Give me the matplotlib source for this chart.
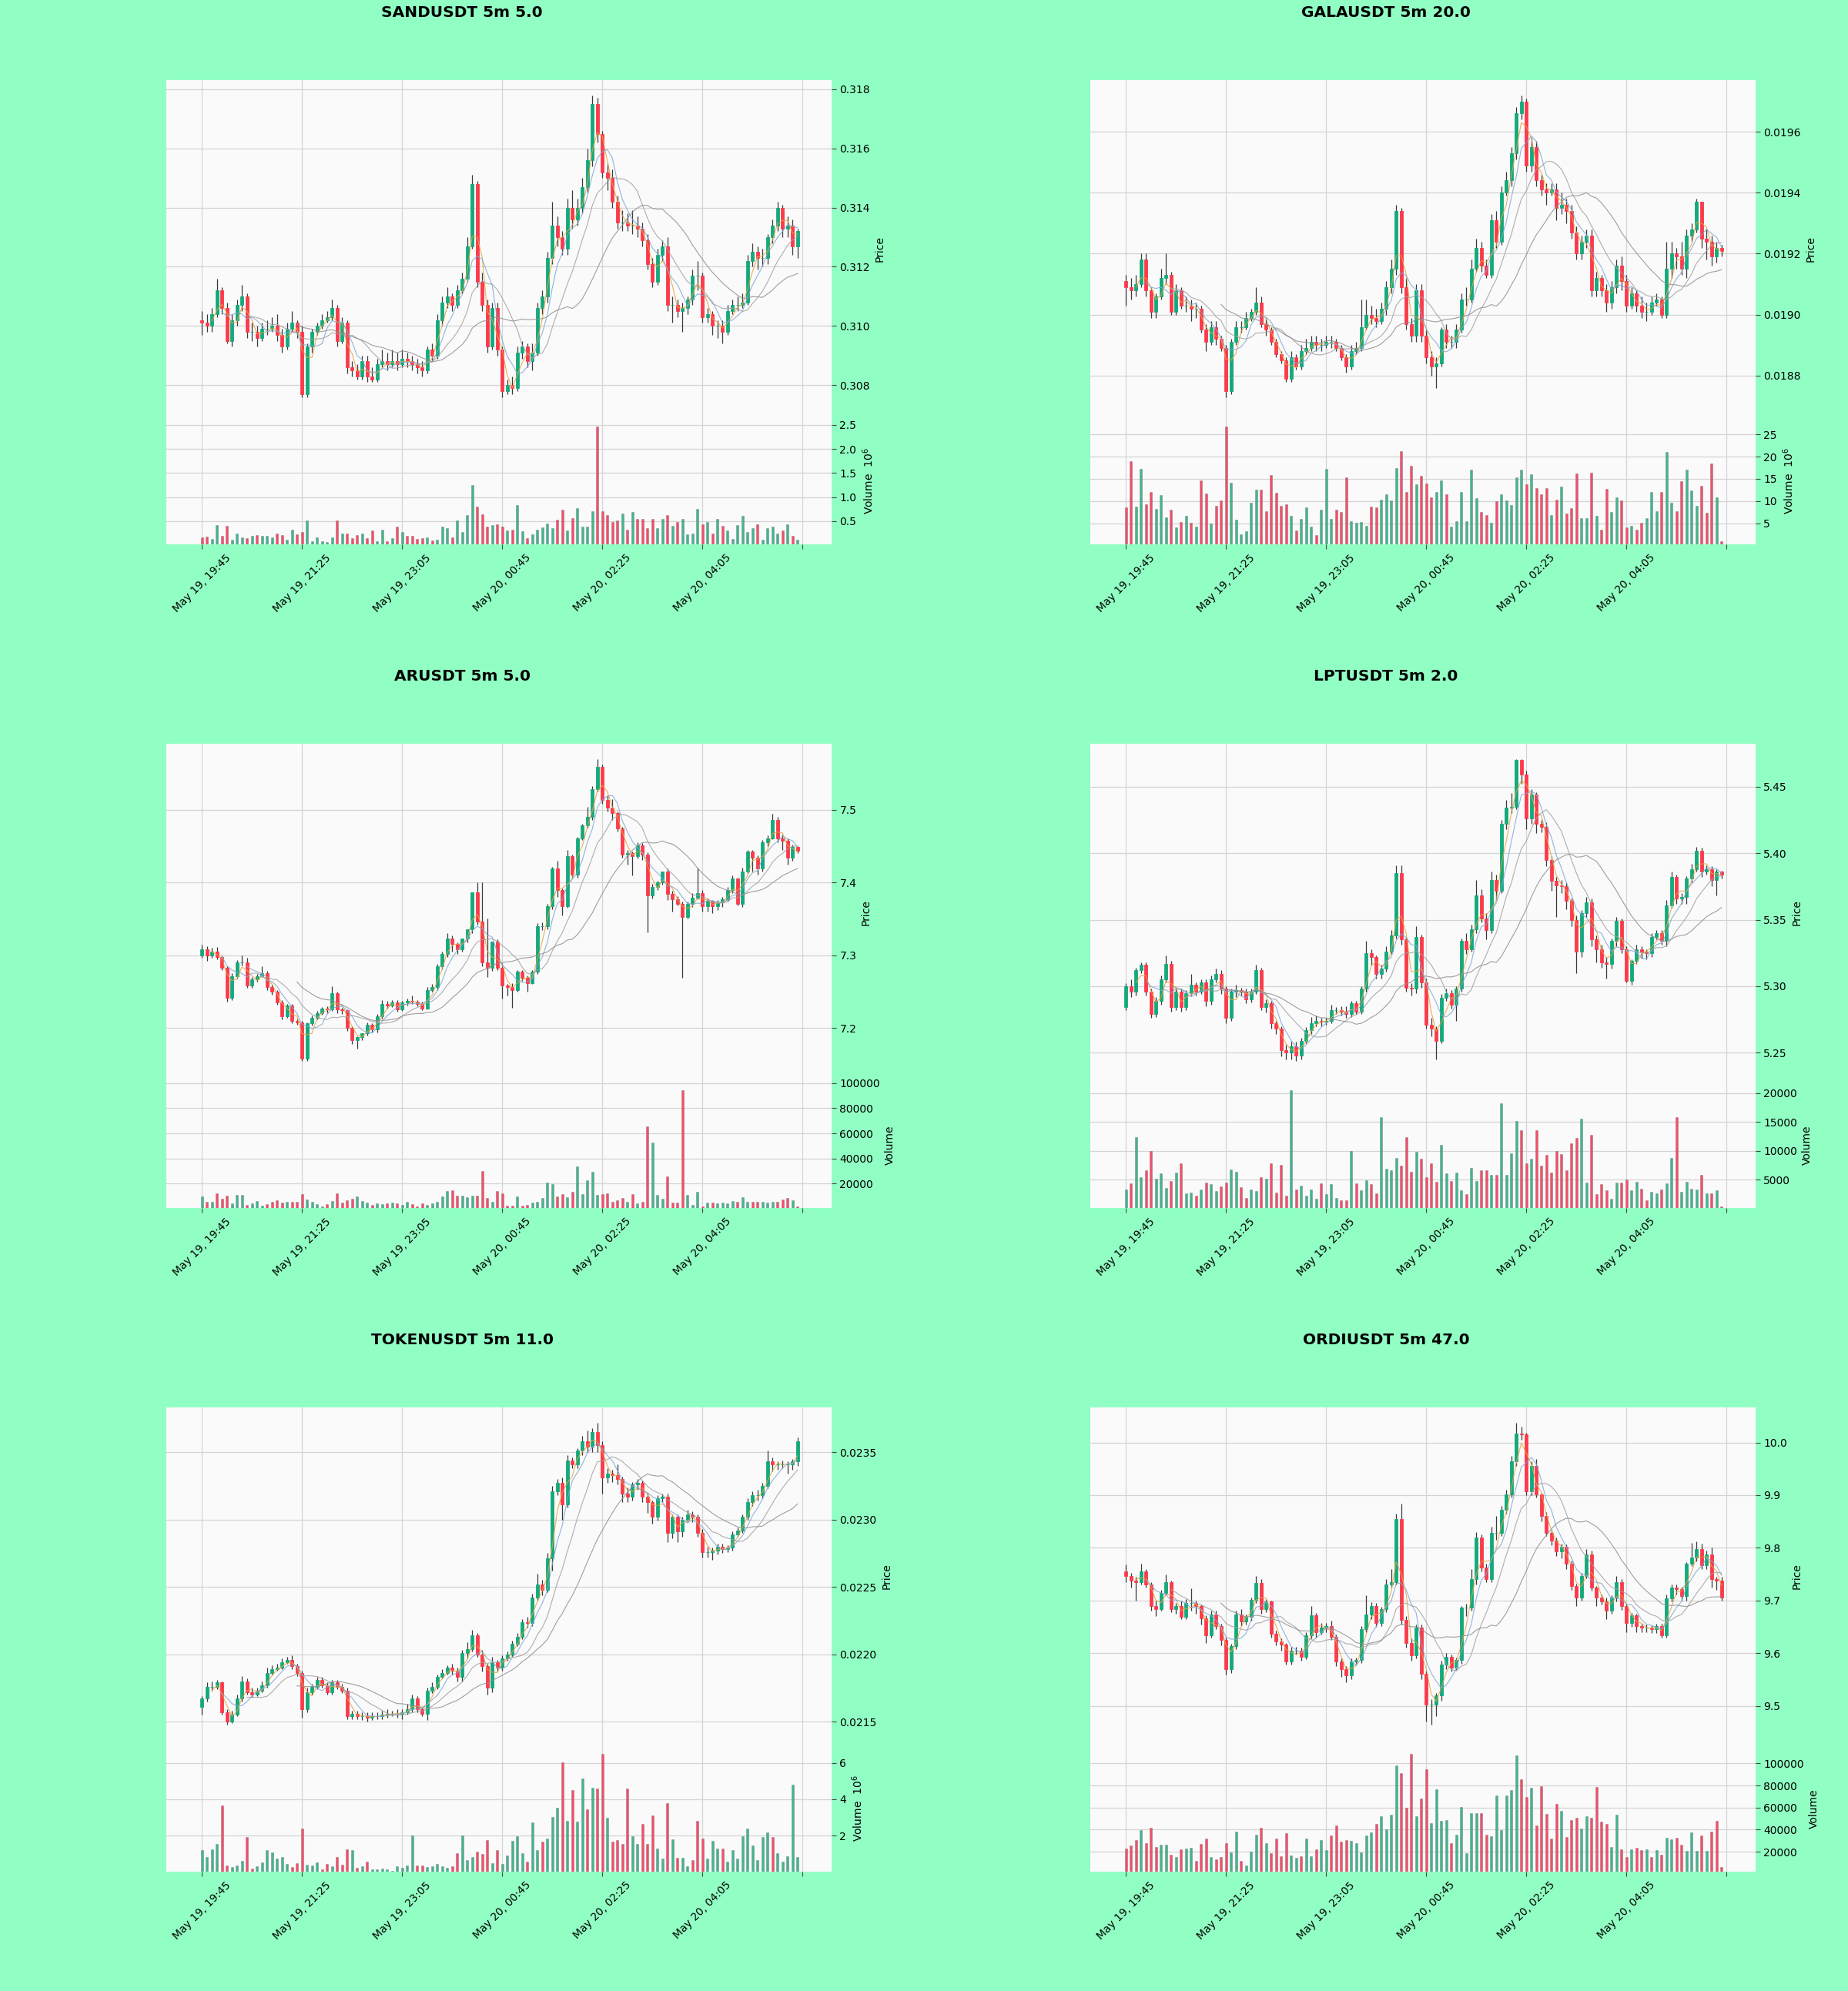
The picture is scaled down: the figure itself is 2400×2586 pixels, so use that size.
import matplotlib
matplotlib.use('Agg')
import matplotlib.pyplot as plt
from matplotlib.ticker import FuncFormatter, MaxNLocator
import numpy as np
import pandas as pd

# ---- data: closes, highs, lows, volumes (volumes in thousands) ----
sand_open0 = 0.3102
sand_close = [0.3101,0.3100,0.3104,0.3112,0.3106,0.3095,0.3102,0.3107,0.3110,0.3098,
              0.3098,0.3096,0.3099,0.3099,0.3100,0.3097,0.3093,0.3099,0.3101,0.3098,
              0.3077,0.3093,0.3098,0.3100,0.3102,0.3103,0.3106,0.3095,0.3101,0.3086,
              0.3085,0.3083,0.3088,0.3083,0.3082,0.3087,0.3088,0.3087,0.3088,0.3087,
              0.3089,0.3088,0.3087,0.3086,0.3085,0.3092,0.3090,0.3102,0.3108,0.3110,
              0.3107,0.3112,0.3116,0.3127,0.3148,0.3115,0.3107,0.3093,0.3106,0.3092,
              0.3078,0.3080,0.3079,0.3091,0.3093,0.3088,0.3091,0.3106,0.3110,0.3123,
              0.3134,0.3130,0.3126,0.3140,0.3136,0.3140,0.3147,0.3156,0.3175,0.3165,
              0.3152,0.3150,0.3142,0.3135,0.3135,0.3134,0.3134,0.3133,0.3129,0.3121,
              0.3115,0.3124,0.3127,0.3107,0.3107,0.3105,0.3106,0.3109,0.3117,0.3117,
              0.3103,0.3104,0.3100,0.3100,0.3098,0.3105,0.3107,0.3107,0.3108,0.3122,
              0.3125,0.3123,0.3123,0.3130,0.3134,0.3140,0.3133,0.3134,0.3127,0.3132]
sand_high = [0.3105,0.3104,0.3106,0.3116,0.3113,0.3108,0.3104,0.3109,0.3114,0.3111,
             0.3101,0.3100,0.3101,0.3102,0.3103,0.3104,0.3099,0.3101,0.3105,0.3102,
             0.3100,0.3094,0.3099,0.3101,0.3104,0.3105,0.3109,0.3107,0.3103,0.3102,
             0.3088,0.3087,0.3090,0.3090,0.3086,0.3089,0.3092,0.3091,0.3092,0.3091,
             0.3092,0.3091,0.3090,0.3089,0.3088,0.3093,0.3094,0.3104,0.3110,0.3113,
             0.3111,0.3114,0.3118,0.3130,0.3151,0.3149,0.3118,0.3109,0.3108,0.3108,
             0.3093,0.3082,0.3083,0.3093,0.3095,0.3094,0.3094,0.3108,0.3112,0.3125,
             0.3142,0.3137,0.3132,0.3143,0.3146,0.3143,0.3150,0.3160,0.3178,0.3177,
             0.3166,0.3155,0.3153,0.3144,0.3139,0.3138,0.3139,0.3137,0.3135,0.3131,
             0.3123,0.3126,0.3129,0.3130,0.3110,0.3109,0.3108,0.3110,0.3119,0.3122,
             0.3118,0.3106,0.3105,0.3102,0.3102,0.3107,0.3109,0.3110,0.3111,0.3124,
             0.3128,0.3127,0.3126,0.3131,0.3136,0.3142,0.3141,0.3137,0.3136,0.3133]
sand_low = [0.3097,0.3098,0.3098,0.3103,0.3104,0.3094,0.3093,0.3100,0.3105,0.3096,
            0.3095,0.3093,0.3095,0.3097,0.3098,0.3095,0.3091,0.3092,0.3098,0.3096,
            0.3076,0.3076,0.3091,0.3097,0.3099,0.3101,0.3102,0.3093,0.3094,0.3084,
            0.3083,0.3082,0.3082,0.3081,0.3081,0.3081,0.3086,0.3085,0.3086,0.3085,
            0.3086,0.3086,0.3085,0.3084,0.3083,0.3084,0.3088,0.3089,0.3100,0.3106,
            0.3105,0.3106,0.3111,0.3115,0.3126,0.3113,0.3105,0.3091,0.3092,0.3090,
            0.3076,0.3077,0.3077,0.3078,0.3089,0.3086,0.3085,0.3090,0.3104,0.3108,
            0.3121,0.3127,0.3124,0.3124,0.3133,0.3134,0.3138,0.3145,0.3154,0.3162,
            0.3150,0.3146,0.3140,0.3133,0.3132,0.3132,0.3131,0.3130,0.3127,0.3119,
            0.3113,0.3114,0.3122,0.3105,0.3101,0.3103,0.3098,0.3104,0.3107,0.3112,
            0.3101,0.3101,0.3097,0.3096,0.3094,0.3097,0.3104,0.3105,0.3106,0.3107,
            0.3120,0.3119,0.3120,0.3121,0.3128,0.3132,0.3130,0.3130,0.3124,0.3123]
sand_vol = [160,180,130,420,200,410,120,250,160,150,
            200,210,200,190,160,250,210,110,330,220,
            280,510,90,160,90,60,160,520,250,250,
            150,210,250,150,310,90,330,80,150,390,
            280,200,200,130,150,170,100,120,390,350,
            170,510,270,620,1250,810,640,390,420,440,
            380,310,320,840,290,150,220,320,370,450,
            360,530,740,310,560,770,380,380,710,2470,
            700,630,480,510,660,330,690,550,550,360,
            550,360,550,630,400,490,550,230,250,750,
            440,480,250,550,410,310,130,420,610,270,
            350,440,120,360,380,250,310,440,190,120]

gala_open0 = 0.01911
gala_close = [0.01909,0.01908,0.01910,0.01918,0.01908,0.01901,0.01906,0.01912,0.01913,0.01901,
              0.01908,0.01903,0.01903,0.01902,0.01902,0.01895,0.01891,0.01896,0.01892,0.01889,
              0.01875,0.01891,0.01896,0.01896,0.01899,0.01901,0.01904,0.01897,0.01895,0.01891,
              0.01887,0.01885,0.01879,0.01886,0.01883,0.01888,0.01889,0.01891,0.01890,0.01890,
              0.01891,0.01891,0.01889,0.01886,0.01883,0.01888,0.01889,0.01896,0.01900,0.01899,
              0.01898,0.01902,0.01909,0.01915,0.01934,0.01909,0.01897,0.01893,0.01908,0.01893,
              0.01886,0.01883,0.01884,0.01895,0.01891,0.01891,0.01895,0.01905,0.01905,0.01915,
              0.01922,0.01916,0.01913,0.01931,0.01924,0.01940,0.01944,0.01953,0.01966,0.01970,
              0.01949,0.01955,0.01944,0.01941,0.01940,0.01941,0.01935,0.01936,0.01934,0.01927,
              0.01920,0.01924,0.01926,0.01908,0.01912,0.01908,0.01904,0.01909,0.01916,0.01911,
              0.01903,0.01907,0.01903,0.01901,0.01901,0.01904,0.01905,0.01900,0.01915,0.01920,
              0.01919,0.01915,0.01926,0.01928,0.01937,0.01925,0.01924,0.01919,0.01922,0.01921]
gala_high = [0.01913,0.01912,0.01913,0.01920,0.01920,0.01909,0.01907,0.01915,0.01920,0.01914,
             0.01910,0.01909,0.01906,0.01905,0.01904,0.01903,0.01897,0.01898,0.01898,0.01893,
             0.01890,0.01892,0.01898,0.01898,0.01901,0.01902,0.01909,0.01906,0.01899,0.01896,
             0.01892,0.01888,0.01886,0.01888,0.01887,0.01890,0.01892,0.01893,0.01893,0.01892,
             0.01893,0.01893,0.01892,0.01890,0.01887,0.01890,0.01891,0.01905,0.01905,0.01903,
             0.01902,0.01904,0.01911,0.01918,0.01936,0.01935,0.01912,0.01899,0.01910,0.01910,
             0.01895,0.01888,0.01886,0.01896,0.01897,0.01893,0.01897,0.01907,0.01909,0.01918,
             0.01925,0.01924,0.01918,0.01933,0.01934,0.01942,0.01947,0.01955,0.01968,0.01972,
             0.01971,0.01958,0.01957,0.01946,0.01943,0.01943,0.01943,0.01940,0.01938,0.01936,
             0.01929,0.01926,0.01928,0.01928,0.01914,0.01913,0.01910,0.01911,0.01918,0.01919,
             0.01913,0.01909,0.01908,0.01906,0.01904,0.01906,0.01907,0.01906,0.01924,0.01924,
             0.01922,0.01924,0.01928,0.01930,0.01938,0.01937,0.01928,0.01926,0.01924,0.01923]
gala_low = [0.01903,0.01905,0.01906,0.01909,0.01906,0.01899,0.01899,0.01905,0.01910,0.01900,
            0.01900,0.01902,0.01901,0.01898,0.01899,0.01894,0.01888,0.01890,0.01890,0.01888,
            0.01873,0.01874,0.01890,0.01894,0.01895,0.01898,0.01900,0.01896,0.01893,0.01890,
            0.01886,0.01884,0.01878,0.01878,0.01882,0.01882,0.01887,0.01888,0.01888,0.01888,
            0.01889,0.01889,0.01888,0.01885,0.01881,0.01882,0.01887,0.01888,0.01895,0.01897,
            0.01896,0.01897,0.01900,0.01907,0.01913,0.01907,0.01895,0.01891,0.01891,0.01891,
            0.01884,0.01880,0.01876,0.01883,0.01889,0.01889,0.01889,0.01894,0.01903,0.01904,
            0.01914,0.01914,0.01912,0.01912,0.01922,0.01923,0.01939,0.01942,0.01951,0.01964,
            0.01947,0.01947,0.01942,0.01939,0.01936,0.01939,0.01931,0.01933,0.01930,0.01925,
            0.01918,0.01918,0.01922,0.01906,0.01906,0.01906,0.01901,0.01902,0.01907,0.01908,
            0.01901,0.01902,0.01901,0.01899,0.01898,0.01900,0.01903,0.01899,0.01899,0.01912,
            0.01915,0.01913,0.01912,0.01924,0.01927,0.01922,0.01918,0.01916,0.01917,0.01919]
gala_vol = [8600,19000,8700,17300,9200,12000,8200,11400,6300,8100,
            4100,5300,6700,5200,4200,14700,11700,5000,8900,10100,
            26800,14200,5800,2500,3200,9600,12500,12500,7700,15900,
            11900,8900,9200,6600,3400,6000,8600,4200,2400,8000,
            17300,5900,8000,7500,15400,5400,5200,5300,4500,8700,
            8600,10300,11500,10100,17400,21300,12100,17900,13700,15700,
            13900,10900,12100,14700,11600,4200,5400,12100,5400,17100,
            10700,7600,6800,5200,10000,11600,10200,9100,15400,17100,
            13700,16000,13000,11600,13000,6800,10400,13300,7200,8400,
            16200,6100,6100,16400,6600,3500,12800,7600,10900,10100,
            4000,4400,3500,5200,6200,12100,7800,12100,21000,9600,
            7800,14400,17100,12400,8900,13400,7400,18400,10900,900]

ar_open0 = 7.300
ar_close = [7.308,7.300,7.305,7.298,7.283,7.241,7.271,7.290,7.290,7.258,
            7.267,7.271,7.275,7.256,7.250,7.235,7.216,7.231,7.210,7.208,
            7.158,7.206,7.214,7.220,7.227,7.225,7.248,7.225,7.224,7.200,
            7.183,7.187,7.193,7.204,7.198,7.216,7.233,7.231,7.235,7.225,
            7.235,7.237,7.236,7.233,7.227,7.252,7.256,7.285,7.302,7.323,
            7.315,7.308,7.323,7.336,7.386,7.346,7.290,7.283,7.319,7.283,
            7.258,7.256,7.252,7.277,7.269,7.262,7.277,7.340,7.340,7.367,
            7.419,7.390,7.367,7.436,7.411,7.461,7.478,7.490,7.528,7.559,
            7.513,7.503,7.495,7.474,7.438,7.440,7.436,7.451,7.438,7.382,
            7.394,7.400,7.415,7.384,7.377,7.371,7.352,7.371,7.379,7.385,
            7.367,7.375,7.367,7.373,7.377,7.390,7.405,7.371,7.415,7.442,
            7.434,7.419,7.455,7.461,7.486,7.461,7.457,7.434,7.449,7.444]
ar_high = [7.314,7.312,7.310,7.311,7.300,7.285,7.275,7.293,7.300,7.296,
           7.270,7.274,7.285,7.278,7.259,7.252,7.238,7.233,7.233,7.213,
           7.210,7.208,7.217,7.223,7.229,7.230,7.257,7.250,7.228,7.226,
           7.202,7.188,7.190,7.207,7.206,7.219,7.238,7.237,7.238,7.238,
           7.237,7.240,7.245,7.238,7.236,7.256,7.260,7.288,7.305,7.330,
           7.327,7.318,7.313,7.328,7.340,7.400,7.400,7.350,7.299,7.322,
           7.289,7.260,7.262,7.280,7.280,7.272,7.280,7.344,7.345,7.370,
           7.421,7.430,7.392,7.445,7.438,7.463,7.481,7.504,7.532,7.570,
           7.562,7.520,7.514,7.498,7.476,7.445,7.443,7.455,7.454,7.441,
           7.398,7.402,7.405,7.419,7.389,7.381,7.374,7.374,7.385,7.420,
           7.390,7.378,7.376,7.376,7.380,7.394,7.410,7.407,7.420,7.445,
           7.445,7.437,7.458,7.465,7.494,7.490,7.466,7.460,7.452,7.450]
ar_low = [7.296,7.292,7.296,7.294,7.279,7.236,7.238,7.268,7.286,7.255,
          7.255,7.264,7.270,7.252,7.246,7.232,7.212,7.214,7.206,7.204,
          7.155,7.155,7.203,7.212,7.218,7.220,7.223,7.220,7.219,7.196,
          7.178,7.172,7.183,7.190,7.194,7.194,7.213,7.227,7.229,7.222,
          7.223,7.231,7.233,7.230,7.224,7.225,7.250,7.252,7.281,7.298,
          7.305,7.302,7.305,7.318,7.330,7.342,7.285,7.270,7.278,7.280,
          7.240,7.245,7.228,7.250,7.265,7.250,7.260,7.274,7.334,7.336,
          7.363,7.380,7.355,7.365,7.405,7.406,7.458,7.475,7.486,7.525,
          7.508,7.498,7.486,7.470,7.434,7.425,7.410,7.433,7.431,7.331,
          7.378,7.390,7.397,7.376,7.360,7.368,7.269,7.350,7.366,7.377,
          7.360,7.360,7.358,7.362,7.366,7.374,7.385,7.368,7.366,7.412,
          7.415,7.411,7.415,7.450,7.459,7.455,7.445,7.425,7.430,7.440]
ar_vol = [9.5,5.4,5.7,12.0,7.8,10.2,4.3,10.9,10.9,2.8,
          4.3,6.2,2.6,3.8,5.4,6.6,5.0,5.2,5.2,5.4,
          11.4,7.1,5.2,3.8,1.9,3.8,6.2,12.5,4.7,6.6,
          7.8,9.5,6.2,4.7,3.3,4.3,3.8,4.3,4.7,4.3,
          3.3,5.2,3.8,1.9,4.3,2.8,4.3,5.7,9.9,14.2,
          14.7,10.2,10.2,9.0,10.6,10.2,30.3,8.5,5.4,14.2,
          12.3,2.4,2.4,9.5,2.4,2.8,4.7,5.7,8.3,20.8,
          19.4,9.9,11.4,9.0,13.7,33.6,11.4,22.7,29.1,10.9,
          11.4,12.5,5.4,6.6,8.5,5.4,11.4,4.3,5.2,65.8,
          52.5,10.9,7.8,25.6,4.7,4.7,94.5,10.9,3.1,13.3,
          1.9,4.7,4.7,4.3,4.7,4.3,6.2,5.7,9.0,5.2,
          5.2,5.2,5.7,4.7,5.7,5.4,7.1,8.5,6.6,1.9]

lpt_open0 = 5.284
lpt_close = [5.300,5.296,5.312,5.316,5.296,5.279,5.289,5.305,5.317,5.284,
             5.296,5.284,5.295,5.301,5.296,5.303,5.289,5.305,5.309,5.298,
             5.276,5.296,5.297,5.296,5.290,5.296,5.312,5.284,5.287,5.272,
             5.268,5.252,5.250,5.255,5.248,5.259,5.267,5.272,5.274,5.273,
             5.274,5.282,5.282,5.281,5.279,5.287,5.281,5.298,5.325,5.322,
             5.309,5.313,5.326,5.338,5.385,5.335,5.299,5.298,5.337,5.303,
             5.271,5.268,5.259,5.291,5.295,5.286,5.298,5.334,5.328,5.343,
             5.368,5.351,5.342,5.380,5.372,5.422,5.434,5.435,5.470,5.459,
             5.426,5.444,5.422,5.420,5.395,5.379,5.376,5.375,5.364,5.350,
             5.326,5.355,5.363,5.335,5.328,5.318,5.317,5.334,5.349,5.328,
             5.304,5.319,5.328,5.326,5.325,5.337,5.340,5.334,5.361,5.382,
             5.366,5.367,5.381,5.388,5.402,5.386,5.388,5.380,5.386,5.384]
lpt_high = [5.302,5.305,5.314,5.318,5.318,5.298,5.292,5.308,5.323,5.319,
            5.299,5.298,5.297,5.309,5.303,5.305,5.305,5.308,5.313,5.312,
            5.300,5.298,5.301,5.299,5.298,5.298,5.316,5.314,5.290,5.289,
            5.274,5.270,5.256,5.258,5.258,5.261,5.269,5.277,5.278,5.276,
            5.276,5.286,5.284,5.285,5.285,5.289,5.289,5.300,5.334,5.328,
            5.323,5.316,5.330,5.342,5.391,5.391,5.337,5.302,5.345,5.339,
            5.306,5.276,5.270,5.294,5.298,5.297,5.300,5.336,5.340,5.346,
            5.380,5.373,5.355,5.386,5.384,5.425,5.440,5.445,5.471,5.471,
            5.462,5.448,5.446,5.425,5.423,5.398,5.382,5.380,5.378,5.366,
            5.353,5.357,5.367,5.366,5.338,5.331,5.322,5.336,5.352,5.351,
            5.330,5.320,5.331,5.330,5.328,5.340,5.342,5.342,5.365,5.386,
            5.384,5.370,5.383,5.392,5.405,5.404,5.391,5.390,5.388,5.387]
lpt_low = [5.282,5.292,5.293,5.310,5.293,5.276,5.277,5.286,5.303,5.281,
           5.282,5.281,5.282,5.293,5.293,5.294,5.285,5.286,5.303,5.294,
           5.272,5.274,5.292,5.293,5.287,5.288,5.294,5.282,5.280,5.268,
           5.264,5.247,5.245,5.245,5.244,5.245,5.257,5.264,5.270,5.270,
           5.271,5.272,5.279,5.278,5.276,5.277,5.279,5.279,5.296,5.316,
           5.306,5.306,5.311,5.324,5.336,5.331,5.296,5.293,5.295,5.299,
           5.268,5.262,5.245,5.257,5.289,5.283,5.274,5.296,5.324,5.326,
           5.340,5.348,5.335,5.340,5.365,5.370,5.418,5.430,5.433,5.452,
           5.418,5.422,5.415,5.416,5.390,5.372,5.352,5.370,5.358,5.345,
           5.310,5.322,5.352,5.330,5.318,5.314,5.306,5.313,5.330,5.325,
           5.303,5.301,5.317,5.321,5.320,5.322,5.335,5.331,5.330,5.359,
           5.362,5.362,5.362,5.378,5.386,5.382,5.384,5.375,5.368,5.381]
lpt_vol = [3.3,4.4,12.3,5.4,6.6,10.0,5.2,6.1,3.6,4.8,
           6.2,7.8,2.7,2.8,2.3,3.3,4.5,4.2,3.0,3.8,
           4.5,6.8,6.4,3.7,1.9,3.3,3.1,5.5,5.2,7.8,
           2.8,7.6,2.3,20.5,3.3,4.0,2.2,3.3,1.7,4.4,
           2.5,4.3,1.8,1.4,1.4,10.0,4.4,3.2,4.9,4.2,
           2.7,15.8,6.9,6.6,8.8,7.4,12.4,6.4,9.8,8.6,
           5.4,7.8,4.6,11.0,6.1,4.8,6.2,3.2,2.5,7.1,
           4.8,6.6,6.6,5.8,5.8,18.2,5.8,9.6,15.1,13.6,
           7.9,8.6,13.6,7.4,9.3,6.2,10.0,9.4,6.6,11.3,
           12.2,15.5,4.5,12.7,2.5,4.2,3.2,1.7,4.5,4.5,
           5.0,3.2,4.7,3.5,1.4,2.9,2.7,3.3,4.4,8.7,
           15.8,2.9,4.7,3.5,3.3,5.9,2.7,2.7,3.2,0.4]

token_open0 = 0.02161
token_close = [0.02167,0.02176,0.02176,0.02179,0.02157,0.02150,0.02155,0.02167,0.02180,0.02172,
               0.02170,0.02173,0.02177,0.02186,0.02189,0.02190,0.02194,0.02196,0.02191,0.02186,
               0.02159,0.02172,0.02176,0.02181,0.02177,0.02172,0.02179,0.02176,0.02173,0.02154,
               0.02156,0.02154,0.02154,0.02153,0.02154,0.02154,0.02155,0.02156,0.02156,0.02156,
               0.02157,0.02159,0.02167,0.02159,0.02156,0.02173,0.02176,0.02183,0.02186,0.02190,
               0.02188,0.02183,0.02201,0.02204,0.02214,0.02200,0.02191,0.02175,0.02194,0.02190,
               0.02197,0.02200,0.02208,0.02213,0.02224,0.02223,0.02242,0.02252,0.02248,0.02271,
               0.02321,0.02327,0.02311,0.02344,0.02341,0.02351,0.02358,0.02354,0.02365,0.02355,
               0.02331,0.02334,0.02333,0.02330,0.02319,0.02317,0.02326,0.02327,0.02317,0.02313,
               0.02302,0.02316,0.02317,0.02290,0.02302,0.02291,0.02300,0.02304,0.02302,0.02290,
               0.02276,0.02276,0.02277,0.02280,0.02278,0.02279,0.02289,0.02292,0.02302,0.02313,
               0.02318,0.02318,0.02325,0.02343,0.02341,0.02341,0.02341,0.02341,0.02343,0.02358]
token_high = [0.02169,0.02179,0.02180,0.02181,0.02180,0.02159,0.02158,0.02170,0.02184,0.02182,
              0.02175,0.02175,0.02180,0.02190,0.02192,0.02193,0.02197,0.02198,0.02199,0.02193,
              0.02188,0.02175,0.02178,0.02183,0.02183,0.02179,0.02181,0.02181,0.02178,0.02175,
              0.02158,0.02158,0.02157,0.02157,0.02157,0.02157,0.02158,0.02159,0.02158,0.02159,
              0.02159,0.02163,0.02170,0.02169,0.02161,0.02175,0.02179,0.02185,0.02189,0.02192,
              0.02193,0.02190,0.02203,0.02209,0.02218,0.02216,0.02203,0.02193,0.02198,0.02196,
              0.02199,0.02202,0.02210,0.02216,0.02226,0.02228,0.02245,0.02260,0.02255,0.02275,
              0.02325,0.02330,0.02331,0.02348,0.02346,0.02353,0.02362,0.02366,0.02368,0.02372,
              0.02358,0.02338,0.02337,0.02341,0.02332,0.02324,0.02328,0.02330,0.02329,0.02320,
              0.02314,0.02318,0.02319,0.02319,0.02304,0.02304,0.02302,0.02307,0.02306,0.02304,
              0.02293,0.02280,0.02279,0.02282,0.02282,0.02281,0.02291,0.02294,0.02304,0.02316,
              0.02321,0.02322,0.02327,0.02351,0.02346,0.02343,0.02344,0.02343,0.02345,0.02361]
token_low = [0.02155,0.02165,0.02173,0.02174,0.02155,0.02148,0.02149,0.02154,0.02165,0.02170,
             0.02168,0.02169,0.02172,0.02175,0.02185,0.02188,0.02189,0.02193,0.02189,0.02184,
             0.02153,0.02157,0.02170,0.02174,0.02175,0.02170,0.02170,0.02174,0.02171,0.02152,
             0.02152,0.02152,0.02151,0.02150,0.02151,0.02152,0.02152,0.02153,0.02154,0.02153,
             0.02152,0.02155,0.02157,0.02157,0.02154,0.02151,0.02171,0.02174,0.02182,0.02185,
             0.02185,0.02180,0.02180,0.02197,0.02202,0.02198,0.02187,0.02170,0.02172,0.02187,
             0.02188,0.02195,0.02198,0.02206,0.02211,0.02220,0.02221,0.02240,0.02244,0.02246,
             0.02262,0.02318,0.02300,0.02309,0.02338,0.02338,0.02348,0.02350,0.02350,0.02350,
             0.02319,0.02327,0.02328,0.02326,0.02313,0.02313,0.02314,0.02322,0.02313,0.02305,
             0.02297,0.02299,0.02313,0.02283,0.02286,0.02283,0.02287,0.02298,0.02298,0.02287,
             0.02272,0.02272,0.02270,0.02274,0.02275,0.02276,0.02277,0.02287,0.02290,0.02300,
             0.02310,0.02314,0.02316,0.02323,0.02336,0.02337,0.02338,0.02334,0.02337,0.02340]
token_vol = [1220,820,1270,1550,3670,380,280,360,620,1930,
             200,330,520,1210,1060,730,820,460,290,490,
             2370,410,380,520,160,460,330,820,410,1270,
             1220,240,330,560,160,160,200,160,80,330,
             240,360,1990,360,360,290,330,460,330,240,
             330,1030,1990,650,820,1110,1010,1760,490,1210,
             460,910,1700,1960,1040,570,2710,1220,1670,1860,
             3040,3540,6010,2820,4490,2780,5130,3460,4650,4570,
             6500,3000,1670,1760,1530,4570,1960,1550,2640,1550,
             3100,1310,730,3790,1800,780,780,330,650,2820,
             1860,730,1710,1310,1310,570,1220,730,1960,2370,
             1470,650,1930,2160,1910,1030,570,850,4820,820]

ordi_open0 = 9.755
ordi_close = [9.747,9.738,9.735,9.756,9.730,9.689,9.683,9.715,9.735,9.683,
              9.690,9.669,9.695,9.695,9.689,9.666,9.634,9.674,9.651,9.625,
              9.570,9.613,9.674,9.660,9.669,9.701,9.733,9.683,9.698,9.637,
              9.622,9.616,9.584,9.605,9.605,9.593,9.634,9.672,9.640,9.648,
              9.651,9.631,9.584,9.570,9.558,9.584,9.587,9.645,9.674,9.689,
              9.657,9.683,9.730,9.735,9.855,9.663,9.619,9.596,9.648,9.561,
              9.503,9.503,9.520,9.578,9.593,9.573,9.587,9.686,9.686,9.741,
              9.820,9.762,9.741,9.828,9.828,9.872,9.901,9.965,10.017,10.015,
              9.907,9.956,9.901,9.860,9.828,9.814,9.794,9.802,9.770,9.727,
              9.706,9.747,9.788,9.724,9.706,9.698,9.680,9.706,9.735,9.689,
              9.657,9.672,9.651,9.648,9.648,9.645,9.651,9.634,9.704,9.724,
              9.721,9.709,9.770,9.782,9.797,9.767,9.788,9.741,9.738,9.706]
ordi_high = [9.768,9.752,9.745,9.770,9.760,9.735,9.700,9.720,9.750,9.738,
             9.695,9.700,9.702,9.723,9.700,9.692,9.672,9.680,9.680,9.656,
             9.630,9.618,9.680,9.683,9.673,9.706,9.746,9.740,9.702,9.700,
             9.642,9.628,9.620,9.612,9.612,9.610,9.640,9.690,9.676,9.658,
             9.658,9.662,9.635,9.590,9.576,9.590,9.592,9.652,9.710,9.697,
             9.695,9.688,9.740,9.760,9.865,9.884,9.670,9.628,9.655,9.655,
             9.566,9.512,9.525,9.585,9.600,9.597,9.592,9.690,9.694,9.760,
             9.830,9.825,9.770,9.840,9.860,9.880,9.910,9.975,10.038,10.030,
             10.018,9.965,9.968,9.905,9.868,9.834,9.820,9.808,9.806,9.776,
             9.732,9.752,9.797,9.795,9.728,9.712,9.705,9.710,9.747,9.740,
             9.694,9.676,9.675,9.656,9.655,9.653,9.656,9.656,9.712,9.730,
             9.730,9.726,9.773,9.810,9.812,9.808,9.795,9.800,9.745,9.745]
ordi_low = [9.735,9.725,9.700,9.730,9.725,9.680,9.670,9.680,9.710,9.678,
            9.675,9.665,9.665,9.680,9.675,9.655,9.620,9.630,9.645,9.615,
            9.560,9.562,9.608,9.652,9.655,9.662,9.695,9.675,9.678,9.630,
            9.615,9.605,9.578,9.578,9.598,9.585,9.588,9.628,9.630,9.635,
            9.640,9.625,9.575,9.555,9.545,9.550,9.578,9.582,9.640,9.665,
            9.650,9.652,9.678,9.725,9.730,9.655,9.610,9.585,9.590,9.550,
            9.470,9.465,9.480,9.510,9.570,9.565,9.568,9.580,9.670,9.680,
            9.730,9.755,9.735,9.735,9.815,9.822,9.865,9.895,9.955,10.005,
            9.900,9.900,9.895,9.850,9.822,9.805,9.785,9.780,9.760,9.720,
            9.690,9.700,9.742,9.718,9.690,9.692,9.665,9.675,9.698,9.682,
            9.640,9.650,9.640,9.640,9.640,9.638,9.638,9.630,9.630,9.698,
            9.712,9.700,9.700,9.765,9.775,9.760,9.760,9.725,9.720,9.700]
ordi_vol = [22.6,25.8,30.3,39.7,27.7,41.6,24.2,26.3,26.3,16.9,
            15.0,22.3,22.8,23.6,11.5,26.9,31.7,14.8,12.9,14.8,
            27.7,19.6,38.4,11.5,7.5,20.1,35.7,41.6,27.7,18.3,
            31.7,15.6,37.1,16.4,14.2,16.1,32.2,15.6,22.3,30.3,
            21.5,34.4,43.5,29.0,30.3,29.5,27.9,19.6,34.9,37.6,
            45.1,52.4,40.3,53.7,98.3,91.3,59.9,108.7,51.8,67.9,
            94.8,45.9,76.8,47.8,48.3,27.7,35.7,60.4,18.8,55.0,
            55.0,55.0,35.7,33.8,70.6,39.7,70.6,76.0,107.4,85.4,
            69.3,77.9,43.8,79.5,54.5,31.7,63.4,57.2,33.0,48.3,
            50.5,41.1,52.4,50.5,78.7,47.0,45.1,24.2,53.7,22.3,
            15.0,22.3,23.6,21.5,22.3,14.8,21.5,16.9,32.5,31.1,
            32.5,26.3,20.9,37.6,20.4,34.9,20.4,37.9,47.8,6.2]

titles = ['SANDUSDT 5m 5.0', 'GALAUSDT 5m 20.0', 'ARUSDT 5m 5.0',
          'LPTUSDT 5m 2.0', 'TOKENUSDT 5m 11.0', 'ORDIUSDT 5m 47.0']
charts = [
    (sand_open0, sand_close, sand_high, sand_low, sand_vol),
    (gala_open0, gala_close, gala_high, gala_low, gala_vol),
    (ar_open0, ar_close, ar_high, ar_low, ar_vol),
    (lpt_open0, lpt_close, lpt_high, lpt_low, lpt_vol),
    (token_open0, token_close, token_high, token_low, token_vol),
    (ordi_open0, ordi_close, ordi_high, ordi_low, ordi_vol),
]
times = pd.date_range('2024-05-19 19:45', periods=120, freq='5min')
mavs = [(3, '#e9a33a'), (5, '#7fa7d6'), (10, '#a0a0a0'), (20, '#8e8e8e')]

BG = '#91ffc4'
UP, DOWN = '#14a97b', '#fb3a4b'
VUP, VDOWN = '#43b58e', '#f2506a'
W, H = 2400, 2586

fig = plt.figure(figsize=(24, 25.86), dpi=100, facecolor=BG)


def box(x, y, w, h):
    return [x / W, 1 - (y + h) / H, w / W, h / H]


for k, (o0, close, high, low, volk) in enumerate(charts):
    r, c = divmod(k, 2)
    x0, y0 = c * 1200, r * 862
    ax = fig.add_axes(box(x0 + 216, y0 + 104, 864, 439))
    axv = fig.add_axes(box(x0 + 216, y0 + 543, 864, 164), sharex=ax)

    close = np.array(close)
    opn = np.r_[o0, close[:-1]]
    high = np.maximum(np.array(high), np.maximum(opn, close))
    low = np.minimum(np.array(low), np.minimum(opn, close))
    idx = np.arange(len(close))
    up = close >= opn
    ccol = np.where(up, UP, DOWN)

    ax.vlines(idx, low, high, color='#3a3a3a', lw=0.9, zorder=2)
    ax.bar(idx, np.abs(close - opn), bottom=np.minimum(opn, close), width=0.6,
           color=ccol, edgecolor=ccol, lw=0.6, zorder=3)
    s = pd.Series(close)
    for p, col in mavs:
        ax.plot(idx, s.rolling(p).mean(), color=col, lw=0.8, alpha=0.85, zorder=4)

    rng = high.max() - low.min()
    ax.set_ylim(low.min() - 0.07 * rng, high.max() + 0.05 * rng)
    ax.set_xlim(-7.1, 125.8)

    vol = np.array(volk) * 1000
    axv.bar(idx, vol, width=0.5, color=np.where(up, VUP, VDOWN),
            edgecolor=(0.25, 0.25, 0.25, 0.35), lw=0.5, zorder=3)
    axv.set_ylim(0.3 * vol.min(), 1.07 * vol.max())
    axv.yaxis.set_major_locator(MaxNLocator(nbins=6, steps=[1, 2, 5, 10]))
    vlabel = 'Volume'
    if vol.max() >= 1e6:
        dec = 1 if vol.max() < 5e6 else 0
        axv.yaxis.set_major_formatter(FuncFormatter(lambda v, p, d=dec: f'{v / 1e6:.{d}f}'))
        vlabel = 'Volume  $10^{6}$'

    for a in (ax, axv):
        a.set_facecolor('#fafafa')
        a.grid(True, color='#d4d4d4', lw=0.9)
        a.set_axisbelow(True)
        for sp in a.spines.values():
            sp.set_visible(False)
        a.yaxis.tick_right()
        a.yaxis.set_label_position('right')
        a.tick_params(labelsize=10, length=4, color='#444444')
    ax.yaxis.get_major_formatter().set_useOffset(False)
    ax.tick_params(labelbottom=False, bottom=False)
    ax.set_ylabel('Price', fontsize=10)
    axv.set_ylabel(vlabel, fontsize=10)

    ticks_x = list(range(0, 121, 20))
    axv.set_xticks(ticks_x)
    axv.set_xticklabels([times[i].strftime('%b %d, %H:%M') if i < len(times) else ''
                         for i in ticks_x], rotation=45, fontsize=10)

    fig.text((x0 + 600) / W, 1 - (y0 + 16) / H, titles[k], ha='center', va='center',
             fontsize=14.5, fontweight='bold')

fig.savefig('out.png', dpi=100, facecolor=BG)
